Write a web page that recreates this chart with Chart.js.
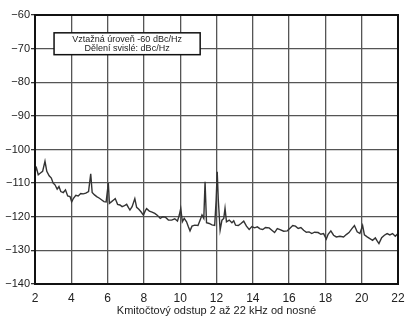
<!DOCTYPE html>
<html>
<head>
<meta charset="utf-8">
<script src="https://cdn.jsdelivr.net/npm/chart.js@4"></script>
<style>
  html, body { margin: 0; padding: 0; background: #fff; }
  #wrap { width: 414px; height: 320px; }
</style>
</head>
<body>
<div id="wrap"><canvas id="spectrum" width="414" height="320"></canvas></div>
<script>
// Phase noise spectrum, 2–22 kHz from carrier
const freqs = [
  2.00, 2.08, 2.18, 2.30, 2.42, 2.55, 2.65, 2.78, 2.90, 3.00, 3.10, 3.22, 3.32, 3.42, 3.56, 3.68, 3.80, 3.93,
  4.02, 4.12, 4.25, 4.38, 4.52, 4.66, 4.80, 4.95, 5.07, 5.15, 5.28, 5.40, 5.55, 5.68, 5.80, 5.92,
  6.04, 6.10, 6.22, 6.33, 6.42, 6.55, 6.68, 6.80, 6.90, 7.05, 7.15, 7.23, 7.35, 7.50, 7.60, 7.72, 7.85, 7.97,
  8.08, 8.15, 8.30, 8.45, 8.60, 8.75, 8.90, 9.05, 9.20, 9.35, 9.53, 9.70, 9.85, 9.95,
  10.03, 10.12, 10.22, 10.35, 10.45, 10.54, 10.65, 10.80, 10.98, 11.10, 11.20, 11.30, 11.37, 11.45, 11.60, 11.75, 11.90, 11.98,
  12.04, 12.10, 12.20, 12.30, 12.40, 12.47, 12.55, 12.70, 12.85, 12.95, 13.05, 13.20, 13.35, 13.50, 13.65, 13.80, 13.95,
  14.10, 14.25, 14.40, 14.55, 14.70, 14.90, 15.05, 15.20, 15.35, 15.50, 15.70, 15.90,
  16.05, 16.20, 16.35, 16.50, 16.65, 16.80, 16.95, 17.10, 17.25, 17.40, 17.60, 17.75, 17.90,
  18.05, 18.15, 18.30, 18.45, 18.60, 18.80, 19.00, 19.15, 19.30, 19.45, 19.60, 19.75, 19.90,
  20.05, 20.15, 20.30, 20.45, 20.60, 20.75, 20.85, 20.95, 21.10, 21.25, 21.40, 21.55, 21.70, 21.85, 22.00
];
const levels = [
  -106.5, -105.5, -107.5, -107, -106.5, -103.5, -106.5, -107.8, -108.5, -110, -110.5, -111.8, -111, -112.5, -112.8, -112, -113.8, -114,
  -115.6, -114.5, -113.6, -113.8, -113.1, -113.2, -113, -112.5, -107.2, -112.8, -113.5, -114, -114.5, -115, -115.5, -115.6,
  -110, -116, -115.5, -115, -114.6, -116.3, -116.5, -117, -116.8, -116.3, -117.3, -118, -117, -114.6, -117.2, -117.8, -118.6, -119.5,
  -118.2, -117.6, -118.3, -118.6, -119, -119.6, -120.5, -120, -120.2, -121, -121, -120.6, -121.3, -119.5,
  -117.5, -121.5, -120.5, -121.5, -123, -124.2, -122.8, -122.5, -122.6, -121, -119.5, -120.5, -109.6, -121.8, -122, -122.4, -122.6, -115,
  -106.6, -115, -124, -121, -120.5, -117.5, -121.5, -121, -121.8, -121.2, -122.5, -122.6, -122, -121.3, -122.8, -123.8, -122.9,
  -123.3, -123, -123.6, -123.8, -123.2, -123.3, -124, -124.7, -123.5, -123.8, -124.3, -124.2,
  -123.4, -122.6, -122.8, -123.5, -123.2, -124, -124.6, -124.5, -125, -124.6, -124.7, -125.2, -125,
  -126.6, -125.2, -124.2, -125.5, -126, -125.8, -126, -125.3, -124.7, -123.6, -122.6, -124.5, -125,
  -122.6, -125.4, -126, -126.5, -127, -126.3, -127.2, -128, -126.2, -125.5, -125, -125.4, -125, -125.8, -125
];
const xTicks = [2, 4, 6, 8, 10, 12, 14, 16, 18, 20, 22];
const yTicks = [-60, -70, -80, -90, -100, -110, -120, -130, -140];
const noteLines = ["Vztažná úroveň -60 dBc/Hz", "Dělení svislé: dBc/Hz"];
const xTitle = "Kmitočtový odstup 2 až 22 kHz od nosné";

const font = "'Liberation Sans', Arial, sans-serif";
const ink = "#222";

const points = freqs.map((f, i) => ({ x: f, y: levels[i] }));

// frame + note box
const framePlugin = {
  id: "frame",
  afterDraw(chart) {
    const { ctx, chartArea: a, scales } = chart;
    ctx.save();
    ctx.strokeStyle = "#111";
    ctx.lineWidth = 2;
    ctx.strokeRect(a.left, a.top, a.right - a.left, a.bottom - a.top);

    const x0 = scales.x.getPixelForValue(3.05);
    const x1 = scales.x.getPixelForValue(11.1);
    const y0 = scales.y.getPixelForValue(-65.3);
    const y1 = scales.y.getPixelForValue(-71.8);
    ctx.fillStyle = "#fff";
    ctx.fillRect(x0, y0, x1 - x0, y1 - y0);
    ctx.lineWidth = 1.5;
    ctx.strokeRect(x0, y0, x1 - x0, y1 - y0);
    ctx.fillStyle = ink;
    ctx.font = "9px " + font;
    ctx.textAlign = "center";
    ctx.textBaseline = "middle";
    const cx = (x0 + x1) / 2;
    ctx.fillText(noteLines[0], cx, y0 + (y1 - y0) * 0.3);
    ctx.fillText(noteLines[1], cx, y0 + (y1 - y0) * 0.72);
    ctx.restore();
  }
};

new Chart(document.getElementById("spectrum"), {
  type: "scatter",
  data: {
    datasets: [{
      data: points,
      showLine: true,
      borderColor: "#333",
      borderWidth: 1.4,
      pointRadius: 0,
      tension: 0
    }]
  },
  options: {
    responsive: false,
    animation: false,
    layout: { padding: { top: 15, right: 16, left: 0, bottom: 0 } },
    plugins: { legend: { display: false }, tooltip: { enabled: false } },
    scales: {
      x: {
        type: "linear",
        min: 2, max: 22,
        afterBuildTicks: s => { s.ticks = xTicks.map(v => ({ value: v })); },
        afterFit: s => { s.height = 36; },
        grid: { color: "#555", lineWidth: 1.3, drawTicks: false },
        border: { display: false },
        ticks: { color: ink, padding: 7, font: { family: font, size: 12 }, maxRotation: 0 },
        title: { display: true, text: xTitle, color: ink, padding: { top: 0, bottom: 2 }, font: { family: font, size: 11 } }
      },
      y: {
        min: -140, max: -60,
        afterBuildTicks: s => { s.ticks = yTicks.map(v => ({ value: v })); },
        afterFit: s => { s.width = 35; },
        grid: { color: "#555", lineWidth: 1.3, drawTicks: true, tickLength: 4, tickColor: "#333" },
        border: { display: false },
        ticks: {
          color: ink, padding: 1,
          font: { family: font, size: 11 },
          callback: v => String(v).replace("-", "\u2212")
        }
      }
    }
  },
  plugins: [framePlugin]
});
</script>
</body>
</html>
